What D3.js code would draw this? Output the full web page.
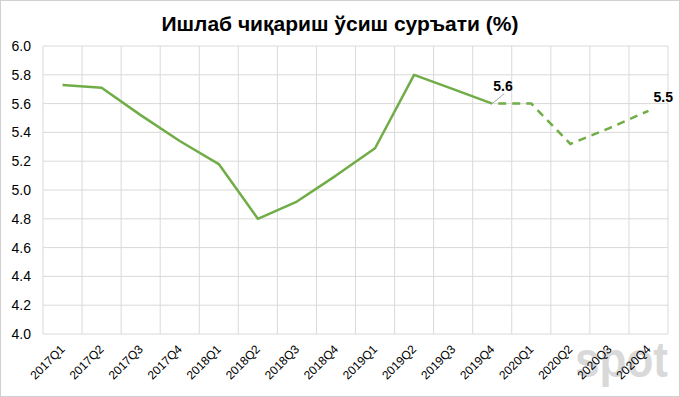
<!DOCTYPE html>
<html>
<head>
<meta charset="utf-8">
<script src="https://cdn.jsdelivr.net/npm/d3@7"></script>
<style>
  body { margin: 0; background: #fff; }
  text { font-family: "Liberation Sans", Arial, sans-serif; }
</style>
</head>
<body>
<div id="chart"></div>
<script>
// data
var quarters = ["2017Q1", "2017Q2", "2017Q3", "2017Q4", "2018Q1", "2018Q2", "2018Q3", "2018Q4",
  "2019Q1", "2019Q2", "2019Q3", "2019Q4", "2020Q1", "2020Q2", "2020Q3", "2020Q4"];
var actual = [5.73, 5.71, 5.52, 5.34, 5.18, 4.80, 4.92, 5.10, 5.29, 5.80, 5.70, 5.60];
var forecastQuarters = ["2019Q4", "2020Q1", "2020Q2", "2020Q3", "2020Q4"];
var forecast = [5.60, 5.60, 5.32, 5.43, 5.55];
var yTicks = [4.0, 4.2, 4.4, 4.6, 4.8, 5.0, 5.2, 5.4, 5.6, 5.8, 6.0];

var svgWidth = 680;
var svgHeight = 397;
var margin = { top: 46, right: 12, bottom: 63, left: 43 };
var width = svgWidth - margin.left - margin.right;
var height = svgHeight - margin.top - margin.bottom;

var svg = d3.select("#chart")
  .append("svg")
  .attr("width", svgWidth)
  .attr("height", svgHeight);

// outer frame
svg.append("rect")
  .attr("x", 0.5).attr("y", 0.5)
  .attr("width", svgWidth - 1).attr("height", svgHeight - 1)
  .attr("fill", "none")
  .attr("stroke", "#d0d0d0");

// watermark
svg.append("text")
  .attr("x", 575).attr("y", 377)
  .attr("font-size", "50px")
  .attr("font-weight", "bold")
  .attr("fill", "#d9d9d9")
  .attr("textLength", 93)
  .attr("lengthAdjust", "spacingAndGlyphs")
  .text("spot");

svg.append("text")
  .attr("x", svgWidth / 2).attr("y", 31)
  .attr("text-anchor", "middle")
  .attr("font-size", "21px")
  .attr("font-weight", "bold")
  .attr("fill", "#000")
  .text("Ишлаб чиқариш ўсиш суръати (%)");

var chartGroup = svg.append("g")
  .attr("transform", `translate(${margin.left}, ${margin.top})`);

var x = d3.scaleBand().domain(quarters).range([0, width]);
var y = d3.scaleLinear().domain([4, 6]).range([height, 0]);

// horizontal grid
chartGroup.append("g")
  .selectAll("line")
  .data(yTicks)
  .enter()
  .append("line")
  .attr("x1", 0).attr("x2", width)
  .attr("y1", d => y(d)).attr("y2", d => y(d))
  .attr("stroke", "#d9d9d9")
  .attr("stroke-width", 1);

// vertical grid between categories
chartGroup.append("g")
  .selectAll("line")
  .data(quarters.concat(["end"]))
  .enter()
  .append("line")
  .attr("x1", (d, i) => i * x.bandwidth()).attr("x2", (d, i) => i * x.bandwidth())
  .attr("y1", 0).attr("y2", height)
  .attr("stroke", "#d9d9d9")
  .attr("stroke-width", 1);

// y axis labels
var leftAxis = d3.axisLeft(y).tickValues(yTicks).tickFormat(d3.format(".1f")).tickSize(0).tickPadding(12);
chartGroup.append("g")
  .call(leftAxis)
  .call(g => g.select(".domain").remove())
  .selectAll("text")
  .attr("font-size", "14px")
  .attr("fill", "#000");

// x axis labels
var bottomAxis = d3.axisBottom(x).tickSize(0).tickPadding(0);
chartGroup.append("g")
  .attr("transform", `translate(0, ${height})`)
  .call(bottomAxis)
  .call(g => g.select(".domain").remove())
  .selectAll("text")
  .attr("font-size", "12px")
  .attr("fill", "#000")
  .attr("text-anchor", "end")
  .attr("dy", "0")
  .attr("transform", "translate(3, 16) rotate(-45)");

var line = d3.line()
  .x(d => x(d.q) + x.bandwidth() / 2)
  .y(d => y(d.v));

chartGroup.append("path")
  .datum(actual.map((v, i) => ({ q: quarters[i], v: v })))
  .attr("d", line)
  .attr("fill", "none")
  .attr("stroke", "#70ad47")
  .attr("stroke-width", 2.5)
  .attr("stroke-linejoin", "round");

chartGroup.append("path")
  .datum(forecast.map((v, i) => ({ q: forecastQuarters[i], v: v })))
  .attr("d", line)
  .attr("fill", "none")
  .attr("stroke", "#70ad47")
  .attr("stroke-width", 2.5)
  .attr("stroke-dasharray", "8,6")
  .attr("stroke-dashoffset", -6);

// data labels
var lastX = x("2019Q4") + x.bandwidth() / 2;
var lastY = y(actual[actual.length - 1]);
chartGroup.append("line")
  .attr("x1", lastX).attr("y1", lastY)
  .attr("x2", lastX + 12).attr("y2", lastY - 10)
  .attr("stroke", "#a6a6a6")
  .attr("stroke-width", 1);
chartGroup.append("text")
  .attr("x", lastX + 1).attr("y", lastY - 13)
  .attr("font-size", "14px")
  .attr("font-weight", "bold")
  .attr("fill", "#000")
  .text(d3.format(".1f")(actual[actual.length - 1]));

var endX = x("2020Q4") + x.bandwidth() / 2;
var endY = y(forecast[forecast.length - 1]);
chartGroup.append("text")
  .attr("x", endX + 5).attr("y", endY - 9)
  .attr("font-size", "14px")
  .attr("font-weight", "bold")
  .attr("fill", "#000")
  .text("5.5");
</script>
</body>
</html>
